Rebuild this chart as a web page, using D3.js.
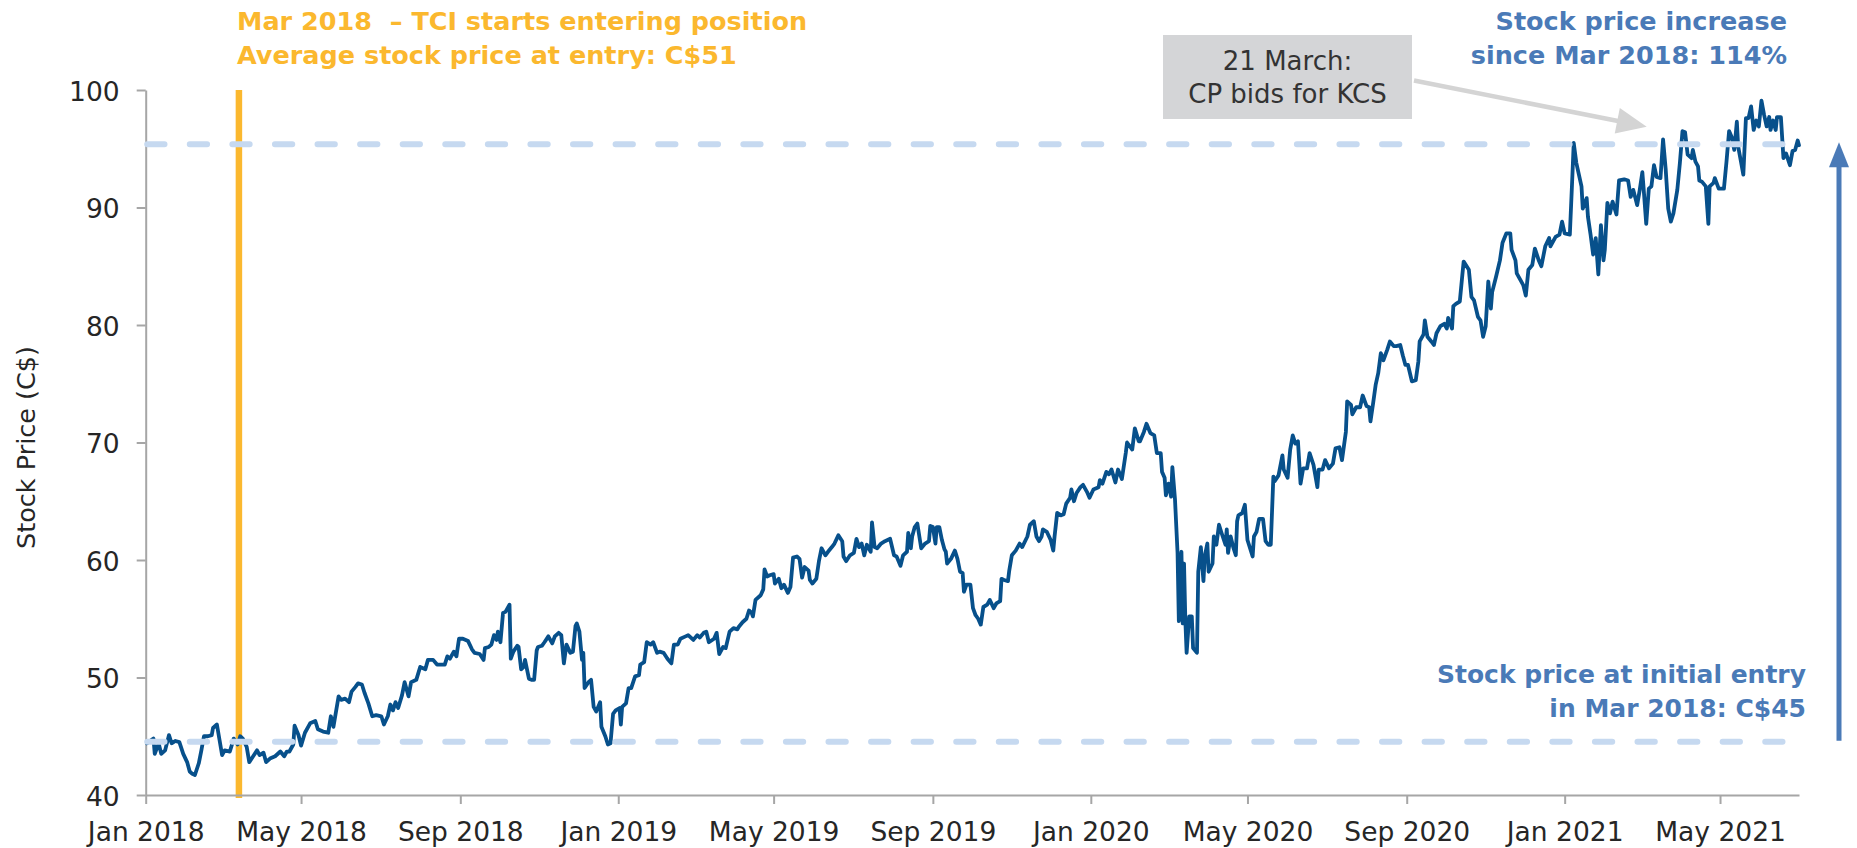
<!DOCTYPE html>
<html><head><meta charset="utf-8">
<script src="https://cdn.jsdelivr.net/npm/d3@7"></script>
<style>
html,body{margin:0;padding:0;background:#fff;}
svg{display:block;font-family:"DejaVu Sans",Verdana,sans-serif;}
text{white-space:pre;}
</style></head><body>
<svg id="chart" width="1857" height="848"></svg>
<script>
// ---------------- DATA ----------------
const dates2018 = [
 "01-02","01-07","01-08","01-11","01-13","01-16","01-19","01-21","01-24","01-27",
 "01-30","02-02","02-04","02-06","02-08","02-11","02-13","02-15","02-18","02-21",
 "02-22","02-25","02-27","03-01","03-03","03-07","03-10","03-13","03-15","03-17",
 "03-20","03-22","03-25","03-28","03-30","04-02","04-04","04-07","04-11","04-15",
 "04-18","04-20","04-22","04-25","04-26","04-29","05-01","05-04","05-08","05-12",
 "05-14","05-18","05-22","05-24","05-26","05-30","06-01","06-04","06-07","06-09",
 "06-12","06-14","06-17","06-19","06-22","06-25","06-28","07-02","07-04","07-07",
 "07-09","07-11","07-13","07-15","07-18","07-20","07-23","07-25","07-29","08-01",
 "08-05","08-07","08-11","08-14","08-16","08-20","08-22","08-24","08-27","08-29",
 "08-31","09-03","09-07","09-10","09-12","09-16","09-19","09-20","09-23","09-25",
 "09-27","09-29","09-30","10-02","10-04","10-06","10-09","10-10","10-12","10-15",
 "10-16","10-18","10-20","10-21","10-24","10-26","10-28","10-30","10-31","11-03",
 "11-05","11-08","11-11","11-13","11-16","11-18","11-20","11-22","11-25","11-27",
 "11-29","11-30","12-02","12-04","12-05","12-06","12-09","12-11","12-13","12-15",
 "12-18","12-19","12-22","12-24","12-26","12-28","12-30"];
const prices2018 = [
 44.4,44.8,43.5,44.4,43.5,43.8,45.1,44.4,44.6,44.5,
 43.5,42.8,42.0,41.8,41.7,42.7,43.8,45.0,45.0,45.1,
 45.7,46.0,44.7,43.4,43.8,43.7,44.8,44.3,45.0,44.8,
 44.1,42.8,43.3,43.8,43.4,43.6,42.8,43.1,43.3,43.7,
 43.3,43.7,43.7,44.3,45.9,45.1,44.2,45.3,46.1,46.3,
 45.6,45.4,45.3,46.7,45.8,48.4,48.1,48.2,47.9,48.8,
 49.2,49.5,49.4,48.7,47.8,46.7,46.8,46.7,46.0,46.7,
 47.7,47.2,47.9,47.4,48.5,49.6,48.4,49.6,49.8,50.9,
 50.7,51.5,51.5,51.1,51.1,51.1,51.8,51.6,52.2,51.8,
 53.3,53.3,53.1,52.4,52.1,52.0,51.5,52.5,52.6,52.8,
 53.6,53.2,53.9,53.0,55.5,55.6,56.2,51.6,52.2,52.7,
 52.6,50.7,50.9,51.5,49.9,49.8,49.8,52.3,52.6,52.7,
 53.0,53.5,52.9,53.5,53.8,53.6,51.2,52.8,52.1,52.2,
 54.4,54.6,53.9,51.5,52.1,49.1,49.6,49.8,47.5,47.1,
 47.9,45.8,45.0,44.3,44.4,46.9,47.2];

const dates2019 = [
 "01-02","01-03","01-04","01-07","01-09","01-11","01-14","01-17","01-18","01-21",
 "01-23","01-26","01-28","01-31","02-02","02-05","02-08","02-11","02-13","02-16",
 "02-18","02-22","02-24","02-28","03-03","03-05","03-08","03-10","03-12","03-16",
 "03-18","03-20","03-23","03-25","03-28","03-31","04-03","04-04","04-07","04-10",
 "04-12","04-14","04-15","04-17","04-21","04-23","04-24","04-26","04-28","05-01",
 "05-02","05-05","05-07","05-09","05-12","05-14","05-16","05-19","05-21","05-23",
 "05-25","05-28","05-29","05-31","06-03","06-05","06-07","06-10","06-12","06-15",
 "06-17","06-20","06-23","06-24","06-26","06-29","07-02","07-04","07-06","07-08",
 "07-10","07-12","07-15","07-16","07-18","07-20","07-23","07-26","07-30","08-02",
 "08-04","08-07","08-09","08-12","08-13","08-15","08-16","08-18","08-20","08-23",
 "08-26","08-29","08-30","09-01","09-03","09-04","09-06","09-08","09-10","09-11",
 "09-12","09-15","09-18","09-20","09-22","09-24","09-25","09-27","09-30","10-02",
 "10-04","10-06","10-08","10-10","10-13","10-15","10-18","10-20","10-23","10-24",
 "10-26","10-29","10-30","11-01","11-04","11-07","11-09","11-13","11-15","11-18",
 "11-20","11-22","11-24","11-25","11-28","12-01","12-03","12-04","12-06","12-09",
 "12-11","12-13","12-16","12-17","12-19","12-21","12-24","12-26","12-29","12-31"];
const prices2019 = [
 47.4,46.0,47.5,47.8,49.1,49.1,50.1,50.2,51.1,51.3,
 53.0,52.8,53.0,52.1,52.2,52.1,51.6,51.2,52.8,52.8,
 53.3,53.5,53.6,53.2,53.6,53.4,53.8,53.9,53.0,53.3,
 53.8,52.0,52.6,52.5,53.9,54.2,54.1,54.3,54.7,55.0,
 55.7,55.5,55.2,56.6,57.0,57.5,59.2,58.6,58.7,58.8,
 58.0,58.4,57.6,57.9,57.2,57.7,60.2,60.3,60.1,58.5,
 59.4,59.1,58.3,58.0,58.4,59.9,61.0,60.4,60.7,61.1,
 61.4,62.1,61.6,60.3,59.9,60.4,60.6,61.8,61.1,61.4,
 60.4,61.3,60.7,63.2,61.1,61.0,61.4,61.6,61.8,60.4,
 60.3,59.5,60.4,60.7,62.3,61.0,62.0,62.8,63.1,61.0,
 61.4,61.6,62.9,62.8,61.4,62.8,62.8,61.7,60.9,60.7,
 59.7,60.1,60.8,60.1,59.0,58.9,57.3,57.9,57.9,55.9,
 55.3,55.0,54.5,56.0,56.2,56.6,55.9,56.3,56.5,58.4,
 58.3,58.2,59.1,60.4,60.8,61.4,61.1,62.0,63.0,63.3,
 62.0,61.6,62.0,62.6,62.4,61.7,60.8,62.0,64.0,63.8,
 63.9,64.8,65.3,66.0,65.0,65.7,66.2,66.4,65.8,65.3];

const dates2020 = [
 "01-03","01-07","01-08","01-10","01-13","01-15","01-17","01-20","01-22","01-25",
 "01-28","01-29","02-02","02-04","02-07","02-08","02-11","02-13","02-16","02-19",
 "02-21","02-24","02-25","02-27","02-28","03-01","03-03","03-04","03-06","03-08",
 "03-09","03-11","03-12","03-13","03-14","03-15","03-17","03-19","03-20","03-23",
 "03-24","03-26","03-28","03-29","03-31","04-01","04-04","04-05","04-07","04-09",
 "04-11","04-14","04-15","04-16","04-18","04-20","04-22","04-23","04-24","04-27",
 "04-29","05-01","05-03","05-05","05-06","05-08","05-10","05-13","05-15","05-17",
 "05-19","05-21","05-22","05-25","05-28","05-29","06-01","06-03","06-05","06-07",
 "06-09","06-11","06-13","06-16","06-18","06-21","06-24","06-25","06-28","06-30",
 "07-03","07-06","07-08","07-11","07-13","07-16","07-17","07-20","07-21","07-24",
 "07-27","07-29","08-01","08-03","08-04","08-06","08-08","08-10","08-12","08-14",
 "08-17","08-19","08-22","08-24","08-27","08-29","08-31","09-02","09-05","09-08",
 "09-10","09-11","09-14","09-15","09-17","09-20","09-22","09-24","09-27","09-30",
 "10-02","10-03","10-06","10-07","10-09","10-12","10-14","10-15","10-19","10-21",
 "10-23","10-26","10-28","10-30","11-01","11-03","11-05","11-06","11-09","11-12",
 "11-14","11-17","11-20","11-21","11-24","11-25","11-28","11-30","12-02","12-04",
 "12-07","12-09","12-12","12-14","12-17","12-20","12-21","12-25","12-28","12-30"];
const prices2020 = [
 66.0,66.2,66.8,66.5,67.5,67.3,67.7,66.6,67.7,66.9,
 69.1,70.0,69.4,71.2,70.1,70.1,70.9,71.6,70.8,70.6,
 69.1,69.1,67.5,67.0,65.5,66.5,65.4,67.9,65.2,60.6,
 54.8,60.7,54.6,59.7,54.9,52.1,55.2,55.2,52.5,52.1,
 59.0,61.1,58.2,60.3,61.4,59.0,59.7,62.0,61.3,63.0,
 62.3,61.3,62.6,60.6,62.0,61.1,60.4,63.3,63.8,64.0,
 64.7,61.7,61.0,60.3,62.0,62.4,63.5,63.5,61.6,61.3,
 61.3,67.1,66.7,67.2,68.9,67.7,67.0,69.4,70.6,69.9,
 70.1,66.5,67.8,67.8,69.1,68.1,66.2,67.7,67.7,68.5,
 67.8,68.2,69.5,69.6,68.5,70.9,73.5,73.2,72.4,73.0,
 73.0,74.0,73.1,73.0,71.8,73.3,74.9,75.9,77.6,77.0,
 77.9,78.6,78.2,78.2,78.3,77.4,76.6,76.6,75.2,75.3,
 76.9,78.6,79.2,80.4,79.0,78.6,78.3,79.3,79.9,80.1,
 79.7,80.6,79.7,81.6,81.8,82.0,84.3,85.4,84.7,82.4,
 82.1,80.7,80.4,79.0,79.9,83.7,81.4,82.8,84.1,85.5,
 87.0,87.8,87.8,86.4,85.5,84.4,83.8,83.4,82.5,84.7,
 85.1,86.5,85.5,85.0,86.7,87.4,86.7,87.5,87.7,88.8];

const dates2021 = [
 "01-01","01-05","01-07","01-08","01-10","01-14","01-15","01-18","01-19","01-21",
 "01-23","01-25","01-27","01-29","01-31","02-01","02-03","02-05","02-07","02-10",
 "02-12","02-16","02-19","02-21","02-23","02-26","02-28","03-02","03-03","03-05",
 "03-07","03-09","03-11","03-13","03-16","03-18","03-20","03-22","03-24","03-26",
 "03-29","03-31","04-02","04-04","04-06","04-09","04-10","04-12","04-14","04-15",
 "04-17","04-20","04-22","04-23","04-26","04-27","04-30","05-04","05-06","05-08",
 "05-10","05-12","05-14","05-15","05-17","05-19","05-21","05-23","05-25","05-27",
 "05-29","05-31","06-02","06-04","06-06","06-08","06-09","06-11","06-13","06-14",
 "06-17","06-19","06-21","06-24","06-26","06-28","06-30","07-01"];
const prices2021 = [
 87.8,87.7,92.8,95.5,93.8,91.8,89.9,90.8,89.2,87.7,
 86.0,87.4,84.3,88.5,85.5,86.4,90.4,89.5,90.5,89.4,
 92.3,92.4,92.3,90.9,91.5,90.2,91.5,93.0,91.6,88.6,
 91.6,91.8,93.6,92.6,92.5,95.8,93.3,89.9,88.8,89.5,
 91.5,93.8,96.5,96.4,94.5,94.2,94.9,93.9,93.5,92.3,
 92.2,91.8,88.6,91.8,92.1,92.5,91.6,91.6,93.9,96.5,
 96.0,94.9,97.3,95.2,94.0,92.8,97.6,97.6,98.6,96.6,
 97.4,96.9,99.1,97.9,96.9,97.7,96.6,97.4,96.6,97.7,
 97.7,94.2,94.6,93.6,94.8,94.9,95.7,95.3];

const yTickValues = [40, 50, 60, 70, 80, 90, 100];
const xTickDates = ["2018-01-01","2018-05-01","2018-09-01","2019-01-01","2019-05-01","2019-09-01",
                    "2020-01-01","2020-05-01","2020-09-01","2021-01-01","2021-05-01"];
const xDomainDates = ["2018-01-01", "2021-07-01"];
const yDomain = [40, 100];
const entryDate = "2018-03-14";       // TCI starts entering position
const initialEntryPrice = 44.54;      // lower dashed reference
const recentPrice = 95.38;            // upper dashed reference

const titleLines = ["Mar 2018  \u2013 TCI starts entering position", "Average stock price at entry: C$51"];
const increaseLines = ["Stock price increase", "since Mar 2018: 114%"];
const entryLines = ["Stock price at initial entry", "in Mar 2018: C$45"];
const calloutLines = ["21 March:", "CP bids for KCS"];
const yAxisTitle = "Stock Price (C$)";

// ---------------- BUILD ----------------
const parse = d3.timeParse("%Y-%m-%d");
const blocks = [[2018, dates2018, prices2018],[2019, dates2019, prices2019],
                [2020, dates2020, prices2020],[2021, dates2021, prices2021]];
const data = blocks.flatMap(([yr, ds, ps]) =>
  ds.slice(0, Math.min(ds.length, ps.length)).map((d, i) => ({date: parse(`${yr}-${d}`), value: ps[i]})));

const W = 1857, H = 848;
const margin = {left: 145.7, right: 58, top: 90, bottom: 53};
const svg = d3.select("#chart");

const x = d3.scaleTime().domain(xDomainDates.map(parse)).range([margin.left, W - margin.right]);
const y = d3.scaleLinear().domain(yDomain).range([H - margin.bottom, margin.top]);

const ORANGE = "#fbb82e", LINE = "#07508b", BLUE = "#4a7ab7", DASH = "#c6d9f0",
      AXIS = "#a6a6a6", TXT = "#262626";

// Orange entry bar
svg.append("line")
  .attr("x1", x(parse(entryDate))).attr("x2", x(parse(entryDate)))
  .attr("y1", y(100)).attr("y2", y(40) + 3)
  .attr("stroke", ORANGE).attr("stroke-width", 6.5);

// Axes
const gx = svg.append("g")
  .attr("transform", `translate(0,${y(40)})`)
  .call(d3.axisBottom(x).tickValues(xTickDates.map(parse))
        .tickFormat(d3.timeFormat("%b %Y")).tickSize(9).tickSizeOuter(0).tickPadding(18));
const gy = svg.append("g")
  .attr("transform", `translate(${margin.left},0)`)
  .call(d3.axisLeft(y).tickValues(yTickValues).tickSize(9).tickSizeOuter(0).tickPadding(17));
[gx, gy].forEach(g => {
  g.select(".domain").attr("stroke", AXIS).attr("stroke-width", 2);
  g.selectAll(".tick line").attr("stroke", AXIS).attr("stroke-width", 2);
  g.selectAll(".tick text").attr("fill", TXT).attr("font-size", 26.5)
    .attr("font-family", "'DejaVu Sans', Verdana, sans-serif");
});
gy.selectAll(".tick text").attr("dy", "0.38em");

// Y axis title
svg.append("text")
  .attr("transform", `translate(35,${(y(40)+y(100))/2 + 5}) rotate(-90)`)
  .attr("text-anchor", "middle").attr("font-size", 25.5).attr("fill", TXT)
  .text(yAxisTitle);

// Price line
svg.append("path").datum(data)
  .attr("fill", "none").attr("stroke", LINE).attr("stroke-width", 3.8)
  .attr("stroke-linejoin", "round").attr("stroke-linecap", "round")
  .attr("d", d3.line().x(d => x(d.date)).y(d => y(d.value)));

// Dashed reference lines
[initialEntryPrice, recentPrice].forEach(v => {
  svg.append("line")
    .attr("x1", margin.left + 1.5).attr("x2", 1782.5)
    .attr("y1", y(v)).attr("y2", y(v))
    .attr("stroke", DASH).attr("stroke-width", 6)
    .attr("stroke-linecap", "round").attr("stroke-dasharray", "17.3 25.28");
});

// Blue vertical arrow (increase)
const ax = 1839;
svg.append("line").attr("x1", ax).attr("x2", ax)
  .attr("y1", y(initialEntryPrice) - 1).attr("y2", y(recentPrice) + 20)
  .attr("stroke", BLUE).attr("stroke-width", 5);
svg.append("path")
  .attr("d", `M${ax},${y(recentPrice) - 2} L${ax - 10},${y(recentPrice) + 23} L${ax + 10},${y(recentPrice) + 23} Z`)
  .attr("fill", BLUE);

// Callout box + arrow
const box = {x: 1163, y: 35, w: 249, h: 84};
svg.append("rect").attr("x", box.x).attr("y", box.y).attr("width", box.w).attr("height", box.h)
  .attr("fill", "#d4d5d7");
calloutLines.forEach((t, i) => {
  svg.append("text").attr("x", box.x + box.w / 2).attr("y", 70 + i * 33)
    .attr("text-anchor", "middle").attr("font-size", 26).attr("fill", "#333")
    .text(t);
});
const a0 = [box.x + box.w + 2, 80.5], a1 = [1646.7, 126.7];
const dx = a1[0] - a0[0], dy = a1[1] - a0[1], len = Math.hypot(dx, dy);
const ux = dx / len, uy = dy / len, hl = 30, hw = 13;
const bx = a1[0] - hl * ux, by = a1[1] - hl * uy;
svg.append("line").attr("x1", a0[0]).attr("y1", a0[1]).attr("x2", bx + 2 * ux).attr("y2", by + 2 * uy)
  .attr("stroke", "#d4d4d4").attr("stroke-width", 4.5);
svg.append("path")
  .attr("d", `M${a1[0]},${a1[1]} L${bx - hw * uy},${by + hw * ux} L${bx + hw * uy},${by - hw * ux} Z`)
  .attr("fill", "#d4d4d4");

// Text annotations
titleLines.forEach((t, i) => {
  svg.append("text").attr("x", 237).attr("y", 30 + i * 34)
    .attr("font-size", 25.5).attr("font-weight", "bold").attr("fill", ORANGE).text(t);
});
increaseLines.forEach((t, i) => {
  svg.append("text").attr("x", 1787).attr("y", 30 + i * 34).attr("text-anchor", "end")
    .attr("font-size", 25.5).attr("font-weight", "bold").attr("fill", BLUE).text(t);
});
entryLines.forEach((t, i) => {
  svg.append("text").attr("x", 1806).attr("y", 683 + i * 34).attr("text-anchor", "end")
    .attr("font-size", 25).attr("font-weight", "bold").attr("fill", BLUE).text(t);
});
</script>
</body></html>
